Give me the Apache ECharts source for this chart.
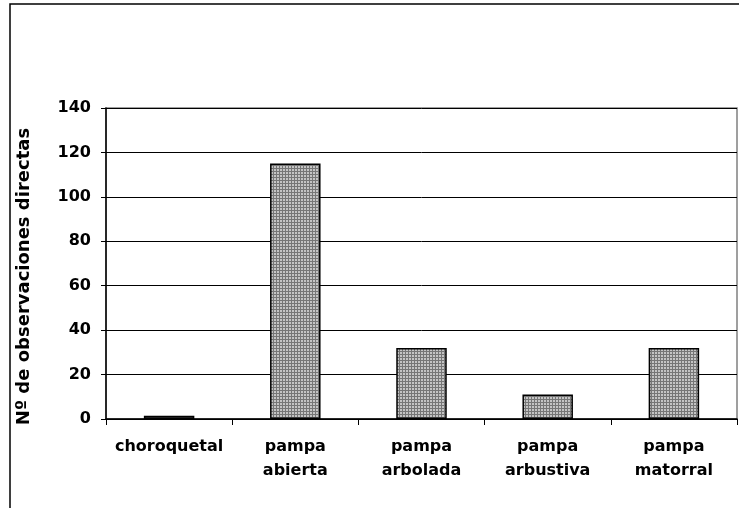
<!DOCTYPE html>
<html><head><meta charset="utf-8">
<script src="https://cdn.jsdelivr.net/npm/echarts@6/dist/echarts.min.js"></script>
<style>html,body{margin:0;padding:0;background:#fff}#c{width:739px;height:508px}</style>
</head><body><div id="c"></div>
<script>
const categories = ['choroquetal', 'pampa\nabierta', 'pampa\narbolada', 'pampa\narbustiva', 'pampa\nmatorral'];
const values = [1.5, 115, 32, 11, 32];
const yTicks = { min: 0, max: 140, interval: 20 };
const yName = 'Nº de observaciones directas';

function makePattern() {
  const c = document.createElement('canvas');
  c.width = 3; c.height = 3;
  const g = c.getContext('2d');
  for (let x = 0; x < 3; x++) for (let y = 0; y < 3; y++) {
    g.fillStyle = (x === 0 || y === 0) ? '#767676' : '#c4c4c4';
    g.fillRect(x, y, 1, 1);
  }
  return c;
}

const chart = echarts.init(document.getElementById('c'), null, { renderer: 'canvas', devicePixelRatio: 1 });
const font = '"DejaVu Sans", "Liberation Sans", Arial, sans-serif';
chart.setOption({
  animation: false,
  backgroundColor: '#fff',
  grid: { left: 106, right: 2, top: 108, bottom: 89, show: true, borderColor: '#808080', borderWidth: 1.5, containLabel: false },
  graphic: [
    { type: 'polyline', shape: { points: [[10, 508], [10, 4], [739, 4]] }, style: { stroke: '#000', lineWidth: 1.5, fill: null } }
  ],
  xAxis: {
    type: 'category',
    data: categories,
    axisLine: { lineStyle: { color: '#000', width: 1.5 } },
    axisTick: { show: true, length: 6, lineStyle: { color: '#000' } },
    axisLabel: { color: '#000', fontFamily: font, fontWeight: 'bold', fontSize: 16, lineHeight: 24, margin: 16, interval: 0 }
  },
  yAxis: {
    type: 'value',
    min: yTicks.min, max: yTicks.max, interval: yTicks.interval,
    name: yName,
    nameLocation: 'middle',
    nameGap: 73,
    nameTextStyle: { color: '#000', fontFamily: font, fontWeight: 'bold', fontSize: 18, padding: [0, 26, 0, 0] },
    axisLine: { show: true, lineStyle: { color: '#000', width: 1.5 } },
    axisTick: { show: true, inside: false, length: 5, lineStyle: { color: '#000' } },
    axisLabel: { color: '#000', fontFamily: font, fontWeight: 'bold', fontSize: 16, margin: 15 },
    splitLine: { show: true, lineStyle: { color: '#000', width: 1 } }
  },
  series: [{
    type: 'bar',
    data: values,
    barWidth: '40%',
    itemStyle: { color: { image: makePattern(), repeat: 'repeat' }, borderColor: '#000', borderWidth: 1.5 }
  }]
});
</script></body></html>
